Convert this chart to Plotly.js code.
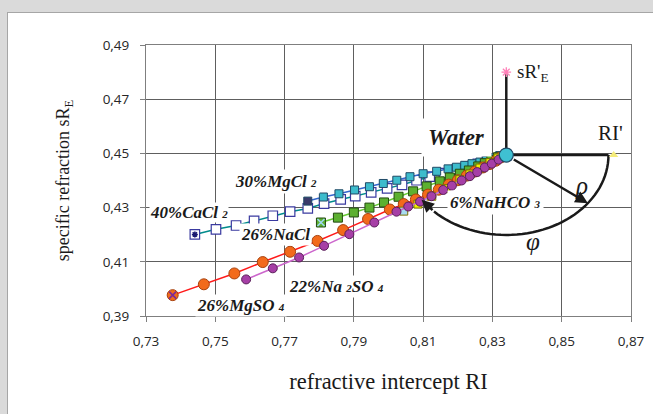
<!DOCTYPE html>
<html>
<head>
<meta charset="utf-8">
<script src="https://cdn.plot.ly/plotly-3.0.1.min.js"></script>
<style>
  html, body { margin:0; padding:0; background:#dadada; width:653px; height:414px; overflow:hidden; }
  #chart { position:absolute; left:7px; top:12px; width:646px; height:402px; box-sizing:border-box;
           border-left:1px solid #a6a6a6; border-top:1px solid #a6a6a6; background:#fff; }
</style>
</head>
<body>
<div id="chart"></div>
<script>
// ---- data ----
const waterX = [0.834];
const waterY = [0.4494];

const cacl2X = [0.7441,0.7502,0.7560,0.7612,0.7666,0.7716,0.7767,0.7814,0.7862,0.7904,0.7950,0.7996,0.8039,0.8081,0.8119,0.8160,0.8197,0.8229,0.8258,0.8284,0.8307,0.834];
const cacl2Y = [0.4201,0.4220,0.4234,0.4251,0.4270,0.4285,0.4297,0.4315,0.4330,0.4342,0.4356,0.4371,0.4384,0.4401,0.4414,0.4427,0.4440,0.4451,0.4461,0.4470,0.4479,0.4494];

const mgcl2X = [0.7767,0.7812,0.7857,0.7902,0.7945,0.7985,0.8024,0.8062,0.8100,0.8139,0.8172,0.8196,0.8220,0.8241,0.8264,0.8283,0.8302,0.8321,0.834];
const mgcl2Y = [0.4324,0.4339,0.4351,0.4365,0.4377,0.4389,0.4401,0.4414,0.4425,0.4434,0.4443,0.4449,0.4456,0.4462,0.4468,0.4474,0.4483,0.4492,0.4494];

const naclX = [0.7805,0.7854,0.7900,0.7945,0.7987,0.8029,0.8071,0.8110,0.8148,0.8177,0.8206,0.8232,0.8259,0.8278,0.8297,0.8316,0.834];
const naclY = [0.4245,0.4263,0.4282,0.4300,0.4319,0.4340,0.4360,0.4378,0.4397,0.4411,0.4425,0.4437,0.4452,0.4464,0.4476,0.4486,0.4494];

const mgso4X = [0.7377,0.7467,0.7555,0.7637,0.7716,0.7795,0.7869,0.7941,0.8004,0.8044,0.8079,0.8114,0.8145,0.8174,0.8200,0.8226,0.8249,0.8272,0.8293,0.8310,0.8324,0.834];
const mgso4Y = [0.3977,0.4017,0.4057,0.4099,0.4137,0.4177,0.4217,0.4258,0.4293,0.4313,0.4330,0.4348,0.4366,0.4385,0.4401,0.4418,0.4433,0.4448,0.4461,0.4473,0.4485,0.4494];

const na2so4X = [0.7589,0.7666,0.7742,0.7814,0.7887,0.7959,0.8023,0.8057,0.8091,0.8124,0.8158,0.8183,0.8211,0.8235,0.8256,0.8278,0.8298,0.8318,0.834];
const na2so4Y = [0.4035,0.4076,0.4116,0.4159,0.4202,0.4245,0.4285,0.4304,0.4322,0.4342,0.4365,0.4381,0.4400,0.4416,0.4431,0.4448,0.4462,0.4477,0.4494];

const nahco3X = [0.8044,0.8085,0.8125,0.8166,0.8206,0.8235,0.8264,0.8293,0.8316,0.834];
const nahco3Y = [0.4287,0.4313,0.4342,0.4370,0.4403,0.4424,0.4446,0.4466,0.4483,0.4494];

const sreX = [0.834], sreY = [0.480];     // sR'E reference point
const riX = [0.865], riY = [0.4494];      // RI' reference point
const rho = 0.0295;                        // radius of the rotation arc

const xTicks = [0.73,0.75,0.77,0.79,0.81,0.83,0.85,0.87];
const yTicks = [0.39,0.41,0.43,0.45,0.47,0.49];

// ---- traces ----
function firstColor(n, first, rest){ const a = new Array(n).fill(rest); a[0] = first; return a; }

const traces = [
  { x: cacl2X, y: cacl2Y, mode:'lines+markers', name:'40%CaCl2',
    line:{color:'#008b8b', width:1.5},
    marker:{symbol:'square', size:9.5, color:'#ffffff', line:{color:'#3a3aa0', width:1.2}} },
  { x: mgcl2X, y: mgcl2Y, mode:'lines+markers', name:'30%MgCl2',
    line:{color:'#3366cc', width:1.5},
    marker:{symbol:'square', size:8, color:firstColor(mgcl2X.length,'#3a3a6a','#3dbccc'), line:{color:'#1f4a66', width:1}} },
  { x: naclX, y: naclY, mode:'lines+markers', name:'26%NaCl',
    line:{color:'#66cc33', width:1.5},
    marker:{symbol:'square', size:9, color:'#5cb030', line:{color:'#234a10', width:1}} },
  { x: mgso4X, y: mgso4Y, mode:'lines+markers', name:'26%MgSO4',
    line:{color:'#ff1a1a', width:1.5},
    marker:{symbol:'circle', size:11, color:'#f26a1b', line:{color:'#a8420e', width:1}} },
  { x: nahco3X, y: nahco3Y, mode:'lines+markers', name:'6%NaHCO3',
    line:{color:'#99ccee', width:1.5},
    marker:{symbol:'square', size:8, color:firstColor(nahco3X.length,'#a8dcf0','#f2f000'), line:{color:'#7a7000', width:1}} },
  { x: na2so4X, y: na2so4Y, mode:'lines+markers', name:'22%Na2SO4',
    line:{color:'#cc66cc', width:1.5},
    marker:{symbol:'circle', size:9, color:'#a63fa6', line:{color:'#5a1f5a', width:1}} },
  // special start markers
  { x:[cacl2X[0]], y:[cacl2Y[0]], mode:'markers', marker:{symbol:'asterisk', size:5, color:'#1a1a70', line:{color:'#1a1a70', width:1.5}} },
  { x:[naclX[0]], y:[naclY[0]], mode:'markers', marker:{symbol:'x-thin', size:7, color:'#9fd8f0', line:{color:'#9fd8f0', width:1.6}} },
  { x:[mgso4X[0]], y:[mgso4Y[0]], mode:'markers', marker:{symbol:'x-thin', size:7, color:'#7a2a9a', line:{color:'#7a2a9a', width:1.6}} },
  // water
  { x: waterX, y: waterY, mode:'markers', name:'Water',
    marker:{symbol:'circle', size:14, color:'#3fc0d2', line:{color:'#1f4a66', width:1.2}} },
  // reference points
  { x: sreX, y: sreY, mode:'markers', marker:{symbol:'asterisk', size:8, color:'#ff80b8', line:{color:'#ff80b8', width:1.3}} },
  { x: riX, y: riY, mode:'markers', marker:{symbol:'triangle-up', size:8, color:'#f5ec7a'} }
];

// ---- arc (rotation angle phi) ----
const cx = waterX[0], cy = waterY[0];
const endDeg = -135;
let path = '';
for (let a = 0; a >= endDeg; a -= 3) {
  const t = a * Math.PI / 180;
  path += (path ? ' L ' : 'M ') + (cx + rho*Math.cos(t)) + ',' + (cy + rho*Math.sin(t));
}
const tailT = endDeg * Math.PI/180, tipT = -146 * Math.PI/180, rhoT = -37 * Math.PI/180;

const shapes = [
  { type:'line', xref:'x', yref:'y', x0:cx, y0:cy, x1:sreX[0], y1:sreY[0]-0.0008, line:{color:'#1a1a1a', width:2.5}, layer:'between' },
  { type:'line', xref:'x', yref:'y', x0:cx, y0:cy, x1:cx+rho, y1:cy, line:{color:'#1a1a1a', width:2.5}, layer:'between' },
  { type:'path', xref:'x', yref:'y', path:path, line:{color:'#1a1a1a', width:2.5}, layer:'between' }
];

const lblFont = {family:'Liberation Serif', size:17, color:'#1a1a1a', style:'italic', weight:'bold'};
const s = (t)=>"<span style='font-size:11px'>"+t+"</span>";

const annotations = [
  { x:cx+rho*Math.cos(tipT), y:cy+rho*Math.sin(tipT), ax:cx+rho*Math.cos(tailT), ay:cy+rho*Math.sin(tailT),
    axref:'x', ayref:'y', xref:'x', yref:'y', text:'', showarrow:true, arrowhead:2, arrowsize:1, arrowwidth:2.5, arrowcolor:'#1a1a1a' },
  { x:cx+rho*Math.cos(rhoT), y:cy+rho*Math.sin(rhoT), ax:cx, ay:cy,
    axref:'x', ayref:'y', xref:'x', yref:'y', text:'', showarrow:true, arrowhead:2, arrowsize:1, arrowwidth:2.5, arrowcolor:'#1a1a1a', startstandoff:7 },
  { xref:'x', yref:'y', x:0.8197, y:0.4560, text:'Water', showarrow:false, bgcolor:'#ffffff', borderpad:6,
    font:{family:'Liberation Serif', size:23, color:'#1a1a1a', style:'italic', weight:'bold'} },
  { xref:'x', yref:'y', x:0.7675, y:0.4398, text:'30%MgCl '+s('2'), showarrow:false, bgcolor:'#ffffff', borderpad:2, font:lblFont },
  { xref:'x', yref:'y', x:0.7424, y:0.4282, text:'40%CaCl '+s('2'), showarrow:false, bgcolor:'#ffffff', borderpad:0, font:lblFont },
  { xref:'x', yref:'y', x:0.7675, y:0.4199, text:'26%NaCl', showarrow:false, bgcolor:'#ffffff', borderpad:1, font:lblFont },
  { xref:'x', yref:'y', x:0.7851, y:0.4010, text:'22%Na '+s('2')+'SO '+s('4'), showarrow:false, bgcolor:'#ffffff', borderpad:1, font:lblFont },
  { xref:'x', yref:'y', x:0.7574, y:0.3940, text:'26%MgSO '+s('4'), showarrow:false, bgcolor:'#ffffff', borderpad:1, font:lblFont },
  { xref:'x', yref:'y', x:0.8310, y:0.4320, text:'6%NaHCO '+s('3'), showarrow:false, bgcolor:'#ffffff', borderpad:2, font:lblFont },
  { xref:'x', yref:'y', x:0.8365, y:0.4796, xanchor:'left', text:"sR'<sub>E</sub>", showarrow:false,
    font:{family:'Liberation Serif', size:19, color:'#1a1a1a'} },
  { xref:'x', yref:'y', x:0.8642, y:0.4575, text:"RI'", showarrow:false,
    font:{family:'Liberation Serif', size:21, color:'#1a1a1a'} },
  { xref:'x', yref:'y', x:0.8557, y:0.4383, text:'ρ', showarrow:false,
    font:{family:'Liberation Serif', size:25, color:'#1a1a1a', style:'italic'} },
  { xref:'x', yref:'y', x:0.8417, y:0.4174, text:'φ', showarrow:false,
    font:{family:'Liberation Serif', size:25, color:'#1a1a1a', style:'italic'} }
];

const axisCommon = {
  showgrid:true, gridcolor:'#5e5e5e', gridwidth:1.2, zeroline:false,
  showline:true, linecolor:'#7f7f7f', linewidth:1, mirror:true,
  ticks:'outside', ticklen:5, tickcolor:'#7f7f7f', tickformat:'.2f',
  tickfont:{family:'Open Sans', size:13.5, color:'#262626'}
};

const layout = {
  width:645, height:401,
  margin:{l:138, r:22, t:32, b:98},
  paper_bgcolor:'#ffffff', plot_bgcolor:'#ffffff',
  separators:',.',
  showlegend:false,
  xaxis: Object.assign({}, axisCommon, {
    range:[0.73,0.87], tickmode:'array', tickvals:xTicks, ticklabelstandoff:8,
    title:{text:'refractive intercept RI', standoff:24, font:{family:'Liberation Serif', size:22.5, color:'#1a1a1a'}}
  }),
  yaxis: Object.assign({}, axisCommon, {
    range:[0.39,0.49], tickmode:'array', tickvals:yTicks, ticklabelstandoff:8,
    title:{text:'specific refraction sR<sub>E</sub>', standoff:28, font:{family:'Liberation Serif', size:18, color:'#1a1a1a'}}
  }),
  shapes:shapes,
  annotations:annotations
};

Plotly.newPlot('chart', traces, layout, {displayModeBar:false, staticPlot:true});
</script>
</body>
</html>
